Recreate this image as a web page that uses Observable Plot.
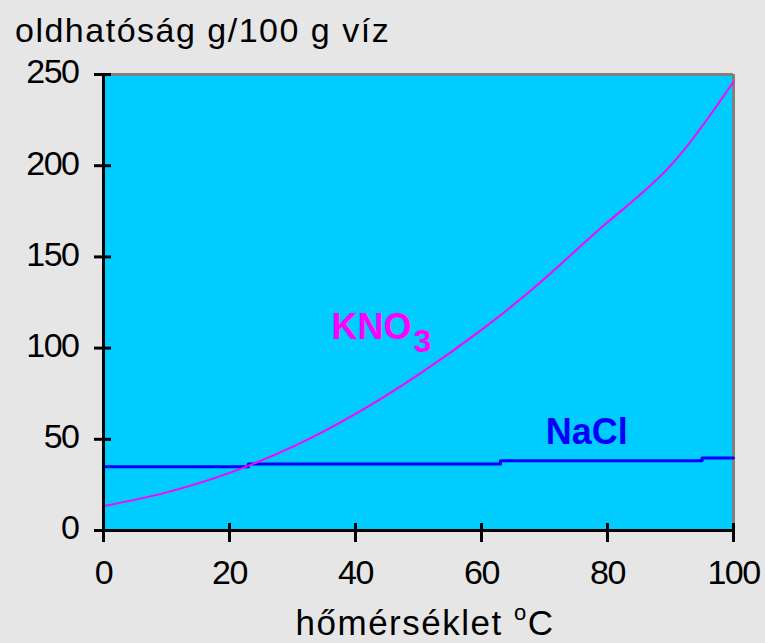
<!DOCTYPE html>
<html>
<head>
<meta charset="utf-8">
<script src="https://cdn.jsdelivr.net/npm/d3@7"></script>
<script src="https://cdn.jsdelivr.net/npm/@observablehq/plot@0.6"></script>
<style>
  html, body { margin: 0; padding: 0; background: #e6e6e6; }
  #wrap { position: relative; width: 765px; height: 643px; overflow: hidden; background: #e6e6e6;
          font-family: "Liberation Sans", Arial, sans-serif; color: #000; }
  #chart { position: absolute; left: 0; top: 0; }
  #title { position: absolute; left: 15px; top: 13px; font-size: 34px; line-height: 34px;
           letter-spacing: 1.5px; white-space: nowrap; }
  #xlabel { position: absolute; left: 425px; top: 606px; transform: translateX(-50%);
            font-size: 35px; line-height: 34px; letter-spacing: 1.5px; white-space: nowrap; }
  #xlabel .sup { font-size: 22px; position: relative; top: -15px; }
  #chart svg g[aria-label="y-axis tick label"] text,
  #chart svg g[aria-label="x-axis tick label"] text { letter-spacing: -1.5px; }
</style>
</head>
<body>
<div id="wrap">
  <div id="chart"></div>
  <div id="title">oldhatóság g/100 g víz</div>
  <div id="xlabel">hőmérséklet <span class="sup">o</span>C</div>
</div>
<script>
// KNO3 solubility (g / 100 g water) vs temperature (°C)
const kno3Temps  = [0, 10, 20, 30, 40, 50, 60, 70, 80, 90, 100];
const kno3Values = [13.3, 20.9, 31.6, 45.8, 63.9, 85.5, 110, 138, 169, 200, 246];

// NaCl solubility (drawn as steps)
const naclTemps  = [0, 23, 63, 95, 100];
const naclValues = [35, 36.5, 38.2, 39.8, 39.8];

// Axis ticks
const xTicks = [0, 20, 40, 60, 80, 100];
const yTicks = [0, 50, 100, 150, 200, 250];

// Series labels
const labelNames  = ["KNO", "NaCl"];
const labelTemps  = [36.2, 70.2];
const labelValues = [111.3, 54];
const labelColors = ["#ff00ff", "#0000ff"];
const subNames  = ["3"];
const subTemps  = [49.2];
const subValues = [103.3];

const kno3 = kno3Temps.map((t, i) => ({t, v: kno3Values[i]}));
const nacl = naclTemps.map((t, i) => ({t, v: naclValues[i]}));
const labels = labelNames.map((s, i) => ({s, t: labelTemps[i], v: labelValues[i], c: labelColors[i]}));
const subs = subNames.map((s, i) => ({s, t: subTemps[i], v: subValues[i]}));

const chart = Plot.plot({
  width: 765,
  height: 643,
  marginLeft: 103,
  marginRight: 32,
  marginTop: 74,
  marginBottom: 113,
  x: {domain: [0, 100]},
  y: {domain: [0, 250]},
  style: {
    background: "transparent",
    fontFamily: "'Liberation Sans', Arial, sans-serif",
    fontSize: "34px",
    color: "#000"
  },
  marks: [
    Plot.frame({fill: "#00ccff", stroke: null}),
    Plot.ruleY([250], {stroke: "#808080", strokeWidth: 3}),
    Plot.ruleX([100], {stroke: "#808080", strokeWidth: 3}),
    Plot.line(nacl, {x: "t", y: "v", curve: "step-after", stroke: "#0000ff", strokeWidth: 3}),
    Plot.line(kno3, {x: "t", y: "v", curve: "natural", stroke: "#ff00ff", strokeWidth: 2}),
    Plot.text(labels, {x: "t", y: "v", text: "s", fill: "c", textAnchor: "start",
                       fontWeight: "bold", fontSize: 36}),
    Plot.text(subs, {x: "t", y: "v", text: "s", fill: "#ff00ff", textAnchor: "start",
                     fontWeight: "bold", fontSize: 32}),
    Plot.ruleX([0], {stroke: "#000", strokeWidth: 3}),
    Plot.ruleY([0], {stroke: "#000", strokeWidth: 3}),
    // tick marks crossing the axis lines
    Plot.axisY({ticks: yTicks, tickSize: 17, dx: 8, strokeWidth: 3, tickFormat: () => "", label: null}),
    Plot.axisX({ticks: xTicks, tickSize: 19, dy: -7, strokeWidth: 3, tickFormat: () => "", label: null}),
    // tick labels
    Plot.axisY({ticks: yTicks, tickSize: 0, tickPadding: 25, dy: -2, label: null, fontSize: 34}),
    Plot.axisX({ticks: xTicks, tickSize: 0, tickPadding: 29, label: null, fontSize: 34})
  ]
});
document.getElementById("chart").appendChild(chart);
</script>
</body>
</html>
